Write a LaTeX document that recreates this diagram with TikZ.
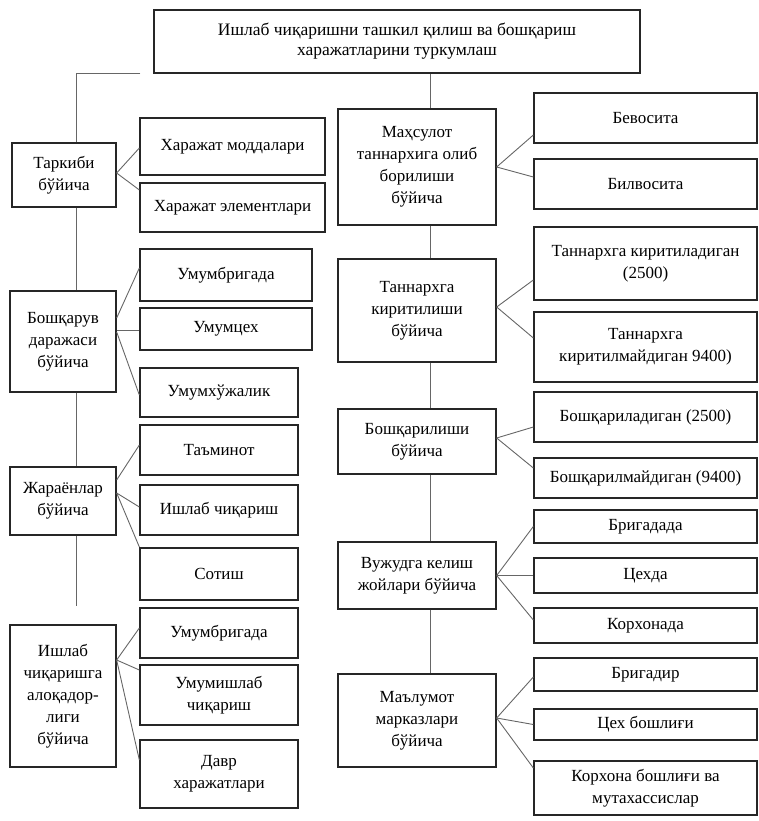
\documentclass[tikz,border=0pt]{standalone}
\usepackage{fontspec}
\setmainfont{Liberation Serif}
\begin{document}
\begin{tikzpicture}[x=1pt,y=-1pt,
  box/.style={draw=black!85, line width=1.3pt, inner sep=0pt, align=center, font=\fontsize{17}{22}\selectfont},
  conn/.style={draw=black!60, line width=0.9pt}]
\useasboundingbox (0,0) rectangle (759,821);
% title
\node[box, minimum width=486pt, minimum height=63pt, font=\fontsize{17.5}{20}\selectfont] (title) at (397,41.5) {Ишлаб чиқаришни ташкил қилиш ва бошқариш\\харажатларини туркумлаш};
% left parents
\node[box, minimum width=104pt, minimum height=64pt] (tark) at (64,175) {Таркиби\\бўйича};
\node[box, minimum width=106pt, minimum height=101pt] (bosh) at (63,341.5) {Бошқарув\\даражаси\\бўйича};
\node[box, minimum width=106pt, minimum height=68pt] (jar) at (63,501) {Жараёнлар\\бўйича};
\node[box, minimum width=106pt, minimum height=142pt] (ish) at (63,696) {Ишлаб\\чиқаришга\\алоқадор-\\лиги\\бўйича};
% left children
\node[box, minimum width=185pt, minimum height=57pt] (hm) at (232.5,146.5) {Харажат моддалари};
\node[box, minimum width=185pt, minimum height=49pt] (he) at (232.5,207.5) {Харажат элементлари};
\node[box, minimum width=172pt, minimum height=52pt] (ub1) at (226,275) {Умумбригада};
\node[box, minimum width=172pt, minimum height=42pt] (uc) at (226,329) {Умумцех};
\node[box, minimum width=158pt, minimum height=49pt] (uh) at (219,392.5) {Умумхўжалик};
\node[box, minimum width=158pt, minimum height=50pt] (tam) at (219,450) {Таъминот};
\node[box, minimum width=158pt, minimum height=50pt] (ich) at (219,510) {Ишлаб чиқариш};
\node[box, minimum width=158pt, minimum height=52pt] (sot) at (219,574) {Сотиш};
\node[box, minimum width=158pt, minimum height=50pt] (ub2) at (219,633) {Умумбригада};
\node[box, minimum width=158pt, minimum height=60pt] (ui) at (219,695) {Умумишлаб\\чиқариш};
\node[box, minimum width=158pt, minimum height=68pt] (dav) at (219,774) {Давр\\харажатлари};
% right parents
\node[box, minimum width=158pt, minimum height=116pt] (mah) at (417,167) {Маҳсулот\\таннархига олиб\\борилиши\\бўйича};
\node[box, minimum width=158pt, minimum height=103pt] (tan) at (417,310.5) {Таннархга\\киритилиши\\бўйича};
\node[box, minimum width=158pt, minimum height=65pt] (bq) at (417,441.5) {Бошқарилиши\\бўйича};
\node[box, minimum width=158pt, minimum height=67pt] (vuj) at (417,575.5) {Вужудга келиш\\жойлари бўйича};
\node[box, minimum width=158pt, minimum height=93pt] (mal) at (417,720.5) {Маълумот\\марказлари\\бўйича};
% right children
\node[box, minimum width=223pt, minimum height=50pt] (bev) at (645.5,118) {Бевосита};
\node[box, minimum width=223pt, minimum height=50pt] (bil) at (645.5,184) {Билвосита};
\node[box, minimum width=223pt, minimum height=73pt] (tk1) at (645.5,263.5) {Таннархга киритиладиган\\(2500)};
\node[box, minimum width=223pt, minimum height=70pt] (tk2) at (645.5,347) {Таннархга\\киритилмайдиган 9400)};
\node[box, minimum width=223pt, minimum height=50pt] (bq1) at (645.5,417) {Бошқариладиган (2500)};
\node[box, minimum width=223pt, minimum height=40pt] (bq2) at (645.5,478) {Бошқарилмайдиган (9400)};
\node[box, minimum width=223pt, minimum height=33pt] (br) at (645.5,526.5) {Бригадада};
\node[box, minimum width=223pt, minimum height=35pt] (ts) at (645.5,575.5) {Цехда};
\node[box, minimum width=223pt, minimum height=35pt] (kor) at (645.5,625.5) {Корхонада};
\node[box, minimum width=223pt, minimum height=33pt] (brd) at (645.5,674.5) {Бригадир};
\node[box, minimum width=223pt, minimum height=31pt] (tsb) at (645.5,724.5) {Цех бошлиғи};
\node[box, minimum width=223pt, minimum height=54pt] (kb) at (645.5,788) {Корхона бошлиғи ва\\мутахассислар};
% trunk connectors
\draw[conn, shorten <=13pt] (title.south west) -| ([xshift=12pt]tark.north);
\draw[conn] ([xshift=12pt]tark.south) -- ([xshift=13pt]bosh.north);
\draw[conn] ([xshift=13pt]bosh.south) -- ([xshift=13pt]jar.north);
\draw[conn, shorten >=18pt] ([xshift=13pt]jar.south) -- ([xshift=13pt]ish.north);
\draw[conn] ([xshift=33pt]title.south) -- ([xshift=13pt]mah.north);
\draw[conn] ([xshift=13pt]mah.south) -- ([xshift=13pt]tan.north);
\draw[conn] ([xshift=13pt]tan.south) -- ([xshift=13pt]bq.north);
\draw[conn] ([xshift=13pt]bq.south) -- ([xshift=13pt]vuj.north);
\draw[conn] ([xshift=13pt]vuj.south) -- ([xshift=13pt]mal.north);
% left fans
\draw[conn] ([yshift=2pt]tark.east) -- ([yshift=-1.5pt]hm.west);
\draw[conn] ([yshift=2pt]tark.east) -- ([yshift=17.5pt]he.west);
\draw[conn] ([yshift=23.5pt]bosh.east) -- ([yshift=7pt]ub1.west);
\draw[conn] ([yshift=11.5pt]bosh.east) -- ([yshift=-1pt]uc.west);
\draw[conn] ([yshift=9.5pt]bosh.east) -- ([yshift=-2.5pt]uh.west);
\draw[conn] ([yshift=21pt]jar.east) -- ([yshift=5pt]tam.west);
\draw[conn] ([yshift=8pt]jar.east) -- ([yshift=3pt]ich.west);
\draw[conn] ([yshift=8pt]jar.east) -- ([yshift=27pt]sot.west);
\draw[conn] ([yshift=36pt]ish.east) -- ([yshift=5pt]ub2.west);
\draw[conn] ([yshift=36pt]ish.east) -- ([yshift=25pt]ui.west);
\draw[conn] ([yshift=36pt]ish.east) -- ([yshift=14pt]dav.west);
% right fans
\draw[conn] (mah.east) -- ([yshift=-17pt]bev.west);
\draw[conn] (mah.east) -- ([yshift=7pt]bil.west);
\draw[conn] ([yshift=3.5pt]tan.east) -- ([yshift=-16.5pt]tk1.west);
\draw[conn] ([yshift=3.5pt]tan.east) -- ([yshift=9pt]tk2.west);
\draw[conn] ([yshift=3.5pt]bq.east) -- ([yshift=-10pt]bq1.west);
\draw[conn] ([yshift=3.5pt]bq.east) -- ([yshift=10pt]bq2.west);
\draw[conn] (vuj.east) -- (br.west);
\draw[conn] (vuj.east) -- (ts.west);
\draw[conn] (vuj.east) -- ([yshift=5.5pt]kor.west);
\draw[conn] ([yshift=2.5pt]mal.east) -- ([yshift=-2.5pt]brd.west);
\draw[conn] ([yshift=2.5pt]mal.east) -- (tsb.west);
\draw[conn] ([yshift=2.5pt]mal.east) -- ([yshift=20pt]kb.west);
\end{tikzpicture}
\end{document}
